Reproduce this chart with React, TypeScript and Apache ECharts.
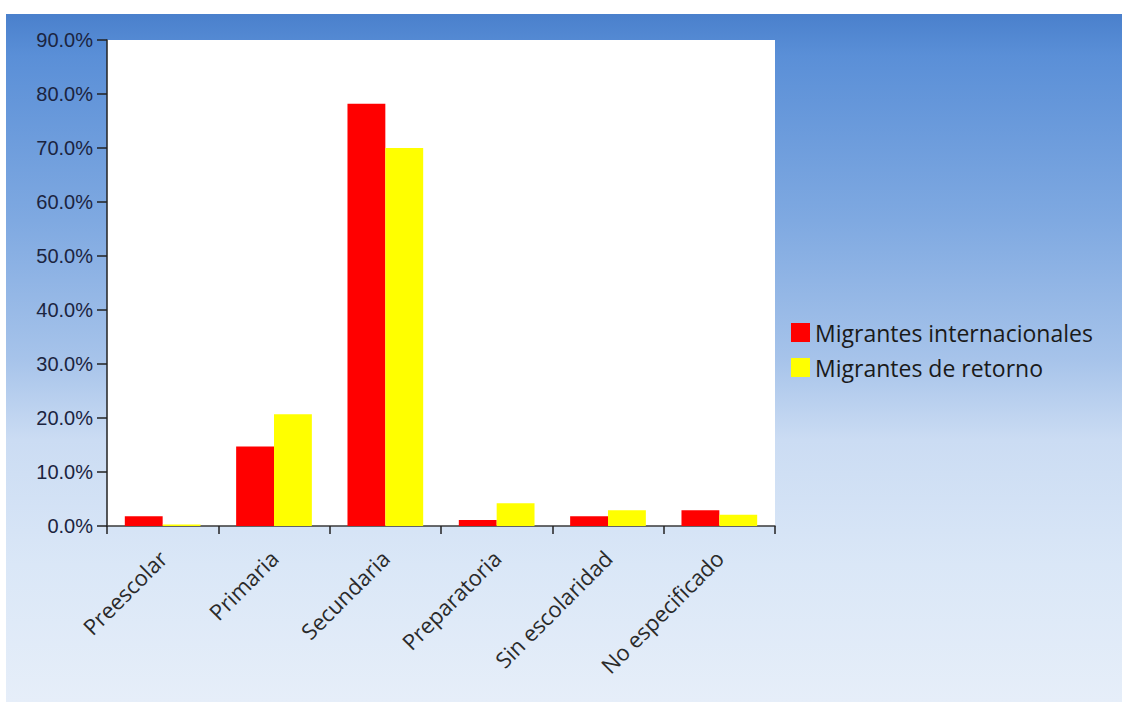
import React, { useEffect, useRef } from "react";
import * as echarts from "echarts";

const categories = [
  "Preescolar",
  "Primaria",
  "Secundaria",
  "Preparatoria",
  "Sin escolaridad",
  "No especificado",
];
const internacionales = [1.8, 14.7, 78.2, 1.1, 1.8, 2.9];
const retorno = [0.3, 20.7, 70.0, 4.2, 2.9, 2.1];
const seriesNames = ["Migrantes internacionales", "Migrantes de retorno"];

export default function App() {
  const ref = useRef<HTMLDivElement>(null);

  useEffect(() => {
    if (!ref.current) return;
    const chart = echarts.init(ref.current, null, { renderer: "svg" });
    chart.setOption({
      animation: false,
      backgroundColor: "#ffffff",
      graphic: [
        {
          type: "rect",
          z: -10,
          silent: true,
          shape: { x: 6, y: 14, width: 1116, height: 688 },
          style: {
            fill: new echarts.graphic.LinearGradient(0, 0, 0, 1, [
              { offset: 0, color: "#4a80cc" },
              { offset: 0.06, color: "#5a8fd7" },
              { offset: 0.3, color: "#7fa9e1" },
              { offset: 0.5, color: "#a6c3ea" },
              { offset: 0.62, color: "#cbdcf3" },
              { offset: 0.8, color: "#dae7f7" },
              { offset: 1, color: "#e6eef9" },
            ]),
          },
        },
      ],
      legend: {
        left: 791,
        top: 321,
        padding: 0,
        orient: "vertical",
        icon: "rect",
        itemWidth: 19,
        itemHeight: 19,
        itemGap: 12,
        data: seriesNames,
        textStyle: {
          fontFamily: "Open Sans",
          fontSize: 23,
          lineHeight: 20,
          color: "#1a1a1a",
          padding: [0, 0, 0, 0],
        },
      },
      grid: {
        left: 107,
        right: 351,
        top: 40,
        bottom: 176,
        show: true,
        backgroundColor: "#ffffff",
        borderWidth: 0,
      },
      xAxis: {
        type: "category",
        data: categories,
        axisLine: { show: true, lineStyle: { color: "#3a3a3a", width: 1.5 } },
        axisTick: { show: true, length: 8, lineStyle: { color: "#222", width: 1.5 } },
        axisLabel: {
          rotate: 45,
          margin: 28,
          fontFamily: "Open Sans",
          fontSize: 22,
          color: "#2a2a2a",
          interval: 0,
        },
      },
      yAxis: {
        type: "value",
        min: 0,
        max: 90,
        interval: 10,
        splitLine: { show: false },
        axisLine: { show: true, lineStyle: { color: "#222", width: 1.5 } },
        axisTick: { show: true, length: 10, lineStyle: { color: "#222", width: 1.5 } },
        axisLabel: {
          margin: 14,
          fontFamily: "Liberation Sans",
          fontSize: 20,
          color: "#1b2440",
          formatter: (v: number) => v.toFixed(1) + "%",
        },
      },
      series: [
        {
          name: seriesNames[0],
          type: "bar",
          data: internacionales,
          barGap: "0%",
          barCategoryGap: "32%",
          itemStyle: { color: "#ff0000" },
        },
        {
          name: seriesNames[1],
          type: "bar",
          data: retorno,
          barGap: "0%",
          barCategoryGap: "32%",
          itemStyle: { color: "#ffff00" },
        },
      ],
    });
    return () => chart.dispose();
  }, []);

  return (
    <div
      ref={ref}
      style={{ position: "fixed", left: 0, top: 0, width: 1126, height: 702 }}
    />
  );
}
